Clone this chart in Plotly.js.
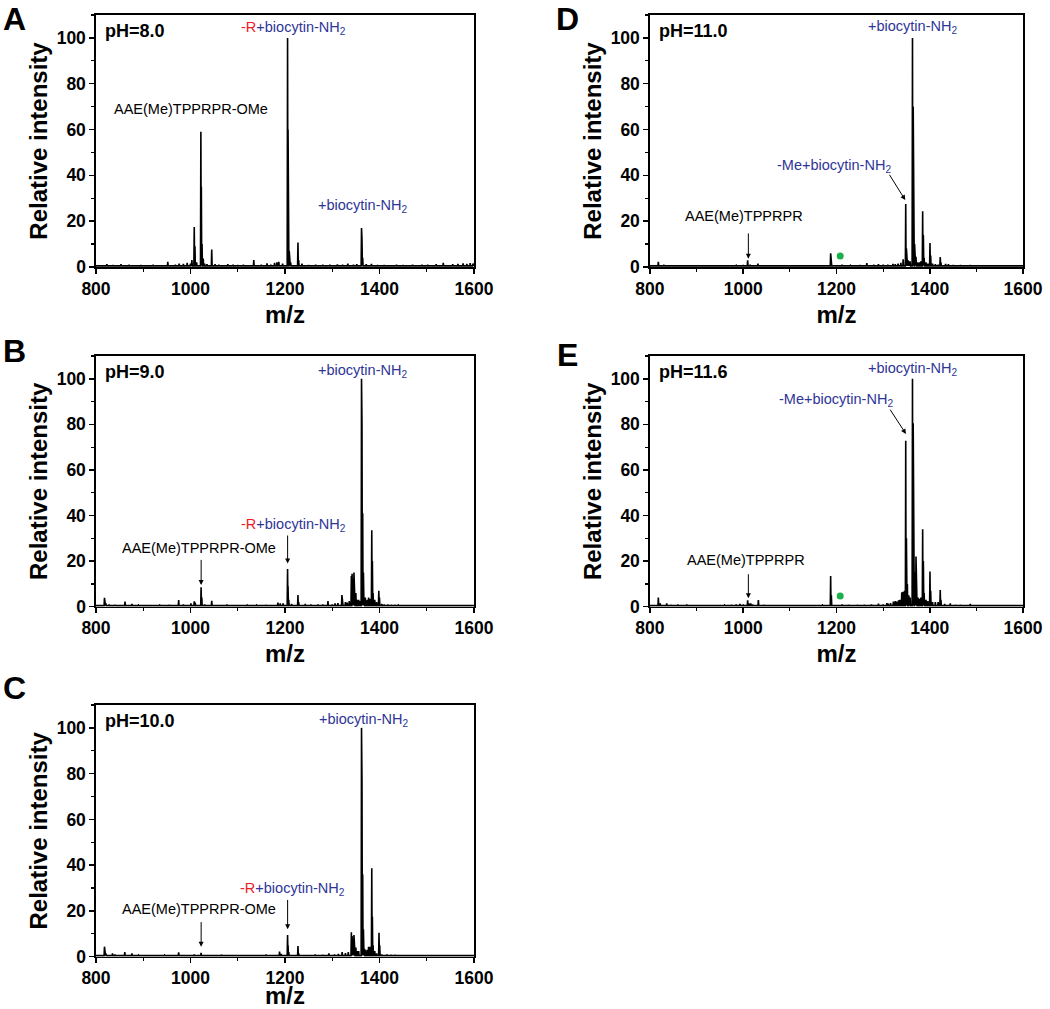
<!DOCTYPE html>
<html>
<head>
<meta charset="utf-8">
<script src="https://cdn.plot.ly/plotly-3.0.1.min.js"></script>
<style>
  html, body { margin: 0; padding: 0; background: #fff; }
  #chart { width: 1050px; height: 1009px; }
</style>
</head>
<body>
<div id="chart"></div>
<script>
// peak lists (m/z, relative intensity)
var mzA = [818, 823, 836, 853, 870, 895, 921, 952, 968, 976, 985, 993, 1000, 1003, 1008, 1009.5, 1013, 1022, 1023, 1024.5, 1027, 1030, 1035, 1045, 1052, 1060, 1079, 1090, 1100, 1112, 1134, 1150, 1162, 1170, 1178, 1183, 1187, 1195, 1205.5, 1206.5, 1207.5, 1209, 1212, 1227.5, 1229, 1236, 1250, 1265, 1280, 1295, 1311, 1322, 1333, 1345, 1352, 1362, 1363, 1364.5, 1372, 1383, 1396, 1410, 1436, 1450, 1470, 1490, 1502, 1520, 1535, 1555, 1566, 1577, 1585, 1592, 1598];
var intA = [0.8, 1.2, 0.8, 1.2, 0.7, 0.8, 0.9, 2.3, 1.0, 1.5, 1.3, 1.8, 1.5, 3, 17.5, 9, 2, 59, 35, 10, 3.7, 1.5, 1.2, 7.6, 1.2, 0.9, 1.2, 1, 0.8, 0.9, 3, 0.9, 1.6, 1, 1.8, 2, 2.2, 1.5, 100, 60, 26, 7, 2, 10.7, 3, 1.5, 0.8, 1, 1, 0.9, 1.1, 0.9, 1.5, 1, 1.2, 17, 12, 4, 1.2, 1.3, 0.8, 0.8, 0.9, 0.8, 1, 0.9, 1, 1.2, 1.8, 1.2, 1.3, 1.6, 1.4, 1.7, 1.5];

var mzB = [818, 821, 828, 840, 861.5, 876, 890, 910, 935, 955, 975, 985, 1001, 1008, 1010, 1022.5, 1024, 1030, 1045, 1060, 1077, 1100, 1120, 1140, 1160, 1185, 1190, 1196, 1205.5, 1206.5, 1208, 1214, 1227.5, 1229, 1243, 1255, 1270, 1280, 1291, 1300, 1306, 1312, 1320.5, 1322, 1328, 1331.5, 1336, 1340.5, 1342, 1344, 1346, 1347.5, 1350, 1353, 1356, 1358, 1362, 1363, 1364.5, 1366, 1368, 1370, 1374, 1377, 1380, 1383.7, 1385, 1386.5, 1390, 1394, 1398.6, 1400, 1405, 1410, 1418, 1425, 1433, 1440, 1470, 1500, 1550];
var intB = [3.9, 1.5, 1, 0.8, 2.3, 1.2, 0.7, 0.6, 0.7, 0.8, 2.9, 1, 1.5, 2.4, 1.8, 8.5, 4, 1, 2.6, 0.8, 0.9, 0.6, 0.7, 0.7, 0.8, 1.8, 1.5, 1.5, 16.5, 9, 3, 1.2, 5.1, 2, 1.2, 0.9, 1, 1, 2.5, 1, 1.5, 1.6, 5.1, 3, 2, 1.8, 2.5, 13.5, 14.5, 12, 15, 14, 6, 3, 3, 2.5, 100, 80, 41, 15, 4, 4, 3, 4, 3.5, 33.5, 20, 6, 3, 2, 7, 4, 1.2, 1, 0.9, 0.8, 0.8, 0.7, 0.5, 0.5, 0.5];

var mzC = [818, 821, 835, 840, 861, 876, 890, 915, 945, 975, 985, 1008, 1022.5, 1045, 1066, 1090, 1130, 1160, 1188.5, 1192, 1205.5, 1206.5, 1208, 1227.5, 1229, 1245, 1264, 1280, 1293, 1305, 1313, 1321, 1328, 1334, 1340.5, 1342, 1344, 1346, 1347.5, 1350, 1353, 1356, 1362, 1363, 1364.5, 1366, 1368, 1370, 1374, 1377, 1380, 1383.7, 1385, 1386.5, 1390, 1394, 1399, 1400.5, 1405, 1416, 1425, 1433, 1450, 1480, 1520, 1578];
var intC = [4.4, 1.5, 1.5, 1, 2, 1.5, 0.7, 0.6, 0.7, 1.9, 0.8, 1, 1.7, 0.8, 0.9, 0.6, 0.6, 0.7, 2.2, 1.2, 9.5, 5, 2, 4.7, 1.5, 0.8, 1, 0.8, 1.5, 1, 1.2, 2, 1.6, 2, 10.7, 9, 8, 9.5, 9, 4, 2.5, 2.5, 100, 77, 36, 12, 3.5, 3, 3, 4.4, 4.4, 38.7, 17.5, 5, 2.5, 1.5, 10.5, 5, 1, 1, 0.8, 0.8, 0.6, 0.5, 0.6, 0.8];

var mzD = [818, 830, 850, 880, 920, 960, 985, 1000, 1009.5, 1015, 1031.5, 1045, 1080, 1120, 1150, 1170, 1187.5, 1189, 1212, 1230, 1250, 1265, 1280, 1290, 1300, 1310, 1321, 1326, 1332, 1338, 1343, 1348.5, 1350, 1353, 1356, 1358, 1363, 1364.5, 1366, 1367.5, 1370.5, 1374, 1378, 1381, 1384.8, 1386.3, 1388, 1392, 1396, 1400.5, 1402, 1406, 1412, 1418, 1422.5, 1424, 1434, 1440, 1450, 1466, 1487, 1500, 1540, 1580];
var intD = [2.2, 0.7, 0.6, 0.6, 0.6, 0.6, 0.7, 0.8, 2.9, 1, 1.5, 0.6, 0.5, 0.6, 0.6, 0.7, 6, 2, 1, 0.7, 0.8, 1.7, 0.9, 1.2, 0.9, 1, 1.3, 1.2, 1.5, 1.8, 3.4, 27.5, 8, 3, 2.5, 2.5, 100, 70, 32, 10, 4.5, 2, 2, 2.5, 24.3, 14, 4, 2, 1.5, 10.5, 5, 1.5, 1.2, 1, 4.3, 2, 1.3, 1.2, 0.8, 0.8, 0.8, 0.5, 0.5, 0.5];

var mzE = [818, 822, 836, 845, 860, 879, 900, 930, 960, 975, 985, 993, 1000, 1009.5, 1012, 1016, 1020, 1032.5, 1045, 1070, 1100, 1140, 1170, 1187.5, 1189, 1212, 1226, 1245, 1260, 1275, 1290, 1300, 1308, 1311, 1316, 1322, 1326, 1329, 1333, 1336, 1340, 1343, 1346, 1348.5, 1350, 1352, 1355, 1358, 1363, 1364.5, 1366, 1367.5, 1370.5, 1372, 1375, 1378, 1381, 1384.8, 1386.3, 1388, 1392, 1396, 1400.5, 1402, 1406, 1412, 1418, 1422.5, 1424, 1432, 1444, 1455, 1466, 1487, 1500, 1530, 1570];
var intE = [4, 1.5, 1.5, 0.8, 0.7, 1, 0.6, 0.6, 0.7, 0.8, 1, 1.2, 1, 2.8, 1.5, 1.5, 1, 2.9, 0.8, 0.6, 0.6, 0.6, 0.7, 13.5, 5, 1, 0.8, 0.8, 0.8, 1, 1.3, 1, 1.6, 1.3, 1.6, 2.2, 2.5, 2.3, 2.8, 3, 6.3, 6.6, 7, 72.8, 30, 10, 5, 4, 100, 80.5, 40, 15, 22, 10, 4, 3.5, 4, 34, 20, 6, 3, 2.5, 15.5, 7, 2, 2, 2, 7.3, 3, 1.2, 1.5, 0.8, 0.8, 1.2, 0.6, 0.5, 0.5];

var phLabels = ["pH=8.0", "pH=9.0", "pH=10.0", "pH=11.0", "pH=11.6"];
var panelLetters = ["A", "B", "C", "D", "E"];
var markedMz = 1208;   // green dot (D, E)
var markedInt = [4.8, 4.7];

var BLUE = "#2e3597";
var RED = "#ee1c24";
var FONT = "Arial, 'Liberation Sans', sans-serif";

// turn a peak list into a stick-spectrum line
function stick(mz, inten) {
  var base = 0.5, w = 0.8;
  var x = [800], y = [base];
  for (var i = 0; i < mz.length; i++) {
    x.push(mz[i] - w, mz[i], mz[i] + w);
    y.push(base, inten[i], base);
  }
  x.push(1600); y.push(base);
  return {x: x, y: y};
}

// panel geometry (paper fractions), order A B C D E
var xDom = [[0.0914, 0.4514], [0.0914, 0.4514], [0.0914, 0.4514], [0.6190, 0.9743], [0.6190, 0.9743]];
var yDom = [[0.7354, 0.9851], [0.3987, 0.6472], [0.0518, 0.3013], [0.7354, 0.9851], [0.3987, 0.6472]];
var spectra = [[mzA, intA], [mzB, intB], [mzC, intC], [mzD, intD], [mzE, intE]];

var data = [];
var layout = {
  width: 1050, height: 1009,
  margin: {l: 0, r: 0, t: 0, b: 0},
  paper_bgcolor: "white", plot_bgcolor: "white",
  showlegend: false,
  annotations: []
};

function axisBase() {
  return {
    showline: true, mirror: true, linecolor: "black", linewidth: 1.6,
    ticks: "outside", ticklen: 5, tickwidth: 1.5, tickcolor: "black",
    showgrid: false, zeroline: false,
    tickfont: {family: FONT, size: 17.5, color: "black", weight: "bold"}
  };
}

for (var p = 0; p < 5; p++) {
  var n = p === 0 ? "" : String(p + 1);
  var s = stick(spectra[p][0], spectra[p][1]);
  data.push({
    type: "scatter", mode: "lines", x: s.x, y: s.y,
    xaxis: "x" + n, yaxis: "y" + n,
    line: {color: "black", width: 1.6}, hoverinfo: "skip"
  });

  var xa = axisBase();
  xa.domain = xDom[p]; xa.anchor = "y" + n;
  xa.range = [800, 1600]; xa.dtick = 200; xa.tick0 = 800;
  xa.minor = {ticks: "outside", dtick: 100, ticklen: 3, tickwidth: 1.2, tickcolor: "black"};
  xa.title = {text: "m/z", standoff: 8, font: {family: FONT, size: 24, color: "black", weight: "bold"}};

  var ya = axisBase();
  ya.domain = yDom[p]; ya.anchor = "x" + n;
  ya.range = [0, 110]; ya.dtick = 20; ya.tick0 = 0;
  ya.minor = {ticks: "outside", dtick: 10, ticklen: 3, tickwidth: 1.2, tickcolor: "black"};
  ya.title = {text: "Relative intensity", standoff: 2, font: {family: FONT, size: 24, color: "black", weight: "bold"}};

  layout["xaxis" + n] = xa;
  layout["yaxis" + n] = ya;

  // pH label
  layout.annotations.push({
    xref: "x" + n, yref: "y" + n, x: 815, y: 103, xanchor: "left", yanchor: "middle",
    text: phLabels[p], showarrow: false,
    font: {family: FONT, size: 18, color: "black", weight: "bold"}
  });
  // panel letter
  var lx = p < 3 ? 14 : 567;
  var ly = [19, 351, 688, 19, 355][p];
  layout.annotations.push({
    xref: "paper", yref: "paper", x: lx / 1050, y: 1 - ly / 1009,
    xanchor: "center", yanchor: "middle", text: panelLetters[p], showarrow: false,
    font: {family: FONT, size: 32, color: "black", weight: "bold"}
  });
}

function label(n, x, y, text, color) {
  layout.annotations.push({
    xref: "x" + n, yref: "y" + n, x: x, y: y, xanchor: "center", yanchor: "middle",
    text: text, showarrow: false,
    font: {family: FONT, size: 14.5, color: color}
  });
}
function arrow(n, x0, y0, x1, y1) {
  layout.annotations.push({
    xref: "x" + n, yref: "y" + n, axref: "x" + n, ayref: "y" + n,
    x: x1, y: y1, ax: x0, ay: y0, text: "", showarrow: true,
    arrowhead: 2, arrowsize: 1, arrowwidth: 1, arrowcolor: "black", standoff: 0, startstandoff: 0
  });
}

var bio = "+biocytin-NH<sub>2</sub>";
var rBio = "<span style='color:" + RED + "'>-R</span>+biocytin-NH<sub>2</sub>";
var meBio = "-Me+biocytin-NH<sub>2</sub>";

// A
label("", 1218, 104.5, rBio, BLUE);
label("", 1002, 69, "AAE(Me)TPPRPR-OMe", "black");
label("", 1364, 26.7, bio, BLUE);
// B
label("2", 1364, 103.5, bio, BLUE);
label("2", 1218, 36, rBio, BLUE);
arrow("2", 1205.6, 31.9, 1205.6, 19);
label("2", 1018, 25.6, "AAE(Me)TPPRPR-OMe", "black");
arrow("2", 1022.6, 21.2, 1022.6, 9.5);
// C
label("3", 1367, 103.5, bio, BLUE);
label("3", 1215, 29.8, rBio, BLUE);
arrow("3", 1205.6, 25.5, 1205.6, 12);
label("3", 1019, 20.7, "AAE(Me)TPPRPR-OMe", "black");
arrow("3", 1022.6, 15.8, 1022.6, 4.4);
// D
label("4", 1364, 104.6, bio, BLUE);
label("4", 1195, 44.2, meBio, BLUE);
arrow("4", 1311.7, 40.9, 1347.5, 29.2);
label("4", 1002, 22.3, "AAE(Me)TPPRPR", "black");
arrow("4", 1011, 15.3, 1011, 3.6);
// E
label("5", 1364, 104.5, bio, BLUE);
label("5", 1199, 90.6, meBio, BLUE);
arrow("5", 1313, 87.1, 1349, 75.8);
label("5", 1006.5, 20.5, "AAE(Me)TPPRPR", "black");
arrow("5", 1011, 14.9, 1011, 3.7);

// green markers in D and E
data.push({type: "scatter", mode: "markers", x: [markedMz], y: [markedInt[0]], xaxis: "x4", yaxis: "y4",
  marker: {color: "#1cb04a", size: 7}, hoverinfo: "skip"});
data.push({type: "scatter", mode: "markers", x: [markedMz], y: [markedInt[1]], xaxis: "x5", yaxis: "y5",
  marker: {color: "#1cb04a", size: 7}, hoverinfo: "skip"});

Plotly.newPlot("chart", data, layout, {staticPlot: true});
</script>
</body>
</html>
